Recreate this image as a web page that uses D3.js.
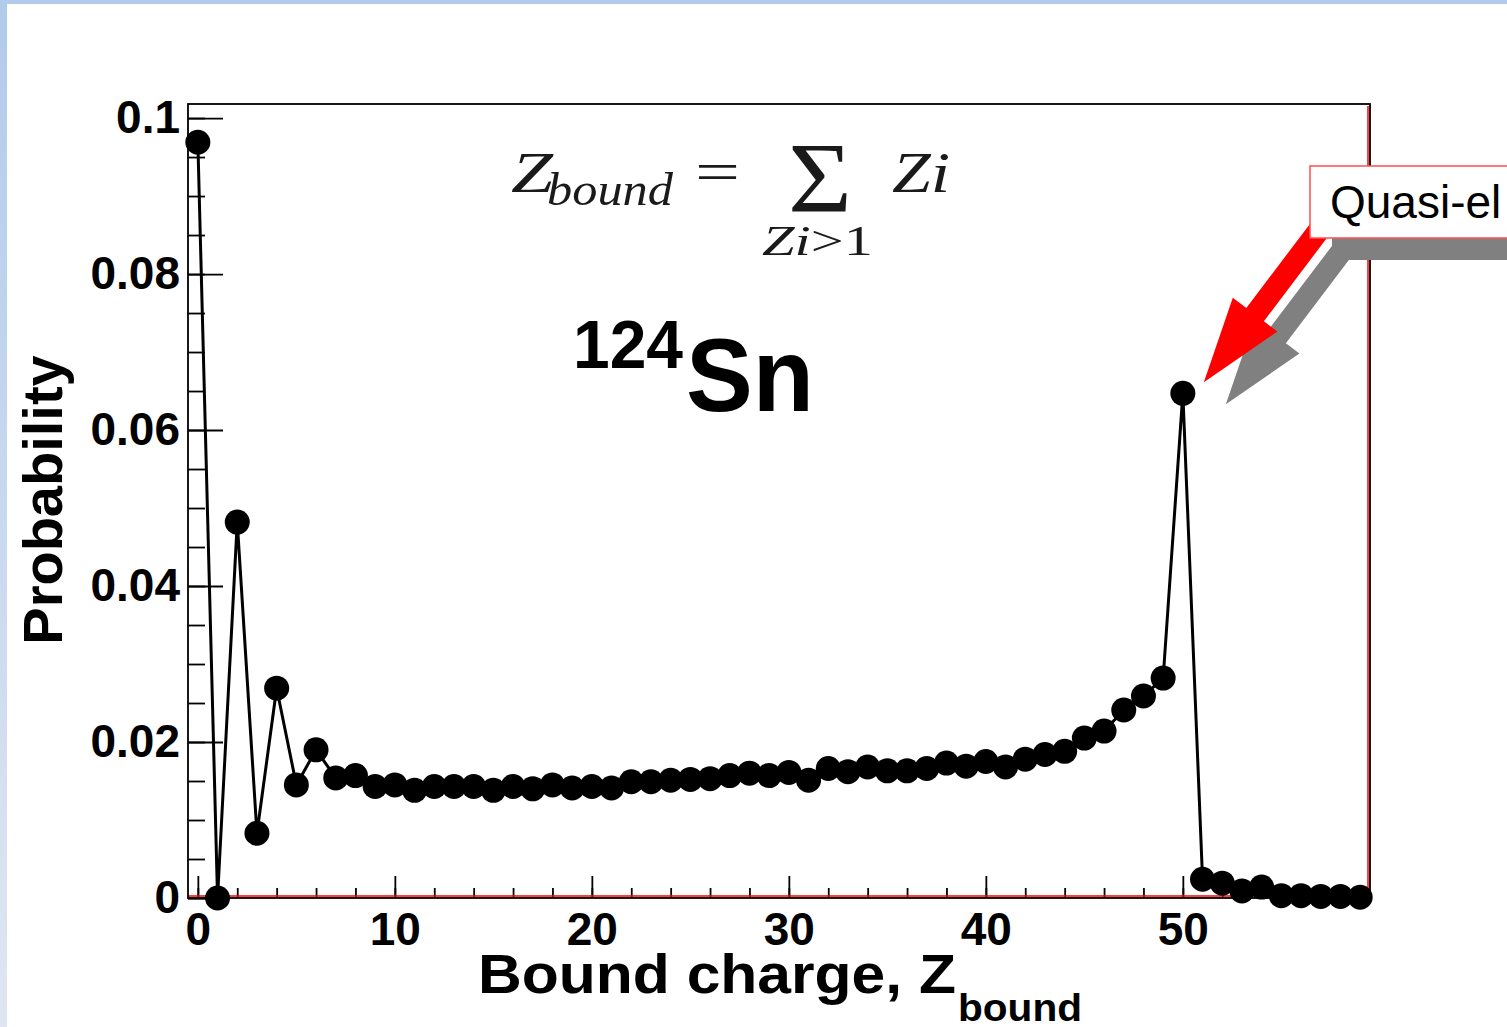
<!DOCTYPE html>
<html>
<head>
<meta charset="utf-8">
<script src="https://cdn.jsdelivr.net/npm/d3@7"></script>
<style>
body { margin: 0; background: #fff; }
svg { display: block; }
text { font-family: "Liberation Sans", Arial, Helvetica, sans-serif; }
</style>
</head>
<body>
<script>
const W = 1507
const H = 1027

// probability of each bound charge Z_bound = 0 .. 59
const probability = [
  0.0969, 0, 0.0482, 0.0083, 0.0269, 0.0145, 0.0190, 0.0154, 0.0157, 0.0143,
  0.0145, 0.0138, 0.0143, 0.0143, 0.0143, 0.0138, 0.0143, 0.0140, 0.0145, 0.0141,
  0.0143, 0.0141, 0.0149, 0.0149, 0.0151, 0.0152, 0.0153, 0.0157, 0.0160, 0.0157,
  0.0161, 0.0151, 0.0166, 0.0162, 0.0168, 0.0163, 0.0163, 0.0166, 0.0173, 0.0169,
  0.0175, 0.0168, 0.0178, 0.0184, 0.0188, 0.0205, 0.0214, 0.0241, 0.0259, 0.0282,
  0.0647, 0.0024, 0.0019, 0.0009, 0.0014, 0.0003, 0.0003, 0.0002, 0.0002, 0.0001
]
const zBound = probability.map((p, i) => i)
const xTicks = [0, 10, 20, 30, 40, 50]
const yTicks = [0, 0.02, 0.04, 0.06, 0.08, 0.1]
const yTickLabels = ["0", "0.02", "0.04", "0.06", "0.08", "0.1"]
const peakZ = 50

const svg = d3.select("body").append("svg").attr("width", W).attr("height", H)

// slide background: white with a pale blue strip at top and left
const grad = svg.append("defs").append("linearGradient").attr("id", "side")
  .attr("x1", 0).attr("y1", 0).attr("x2", 0).attr("y2", 1)
grad.append("stop").attr("offset", "0%").attr("stop-color", "#b2cbea")
grad.append("stop").attr("offset", "100%").attr("stop-color", "#dfe6f2")
svg.append("rect").attr("width", W).attr("height", H).attr("fill", "#fff")
svg.append("rect").attr("width", W).attr("height", 4).attr("fill", "#b2cbea")
svg.append("rect").attr("width", 7).attr("height", H).attr("fill", "url(#side)")

const padL = 188, padR = 1370, padT = 104, padB = 898
const x = d3.scaleLinear([-0.5, 59.5], [padL, padR])
const y = d3.scaleLinear([0, 0.1018], [padB, padT])

// y axis: minor + major ticks pointing inward
svg.append("g").attr("transform", `translate(${padL},0)`)
  .call(d3.axisLeft(y).tickValues(d3.range(0, 0.1001, 0.005)).tickSize(-17).tickFormat(""))
svg.append("g").attr("transform", `translate(${padL},0)`)
  .call(d3.axisLeft(y).tickValues(yTicks).tickSize(-35).tickPadding(8).tickFormat((d, i) => yTickLabels[i]))

// x axis: ticks upward
svg.append("g").attr("transform", `translate(0,${padB})`)
  .call(d3.axisBottom(x).tickValues(d3.range(0, 59, 2)).tickSize(-10).tickFormat(""))
svg.append("g").attr("transform", `translate(0,${padB})`)
  .call(d3.axisBottom(x).tickValues(xTicks).tickSize(-22).tickPadding(14))

svg.selectAll(".domain").remove()
svg.selectAll(".tick line").attr("stroke", "#000").attr("stroke-width", 1.8)
svg.selectAll(".tick text").attr("fill", "#000").style("font-size", "46px").style("font-weight", "bold")

// plot frame (red inner edge on bottom and right like the original pad)
svg.append("line").attr("x1", padL).attr("x2", padR - 2).attr("y1", padB - 2).attr("y2", padB - 2)
  .attr("stroke", "#f00").attr("stroke-width", 1.5)
svg.append("line").attr("x1", padR - 2).attr("x2", padR - 2).attr("y1", padT + 2).attr("y2", padB)
  .attr("stroke", "#f00").attr("stroke-width", 1.5)
svg.append("rect").attr("x", padL).attr("y", padT).attr("width", padR - padL).attr("height", padB - padT)
  .attr("fill", "none").attr("stroke", "#000").attr("stroke-width", 1.8)

// data
const line = d3.line().x((d, i) => x(zBound[i])).y(d => y(d))
svg.append("path").datum(probability).attr("d", line)
  .attr("fill", "none").attr("stroke", "#000").attr("stroke-width", 3).attr("stroke-linejoin", "miter")
svg.append("g").selectAll("circle").data(probability).enter().append("circle")
  .attr("cx", (d, i) => x(zBound[i])).attr("cy", d => y(d)).attr("r", 12.5).attr("fill", "#000")

// axis titles
svg.append("text").attr("transform", "translate(62,500) rotate(-90)").attr("text-anchor", "middle")
  .style("font-size", "56px").style("font-weight", "bold").text("Probability")
svg.append("text").attr("x", 478).attr("y", 993).attr("textLength", 478).attr("lengthAdjust", "spacingAndGlyphs")
  .style("font-size", "55px").style("font-weight", "bold").text("Bound charge, Z")
svg.append("text").attr("x", 958).attr("y", 1021).attr("textLength", 124).attr("lengthAdjust", "spacingAndGlyphs")
  .style("font-size", "38px").style("font-weight", "bold").text("bound")

// formula
const serif = "'Liberation Serif', 'Times New Roman', serif"
const fcol = "#1a1a1a"
const ftext = (tx, ty, size, str, len, italic) => svg.append("text").attr("x", tx).attr("y", ty)
  .attr("textLength", len).attr("lengthAdjust", "spacingAndGlyphs").attr("fill", fcol)
  .style("font-family", serif).style("font-size", size + "px").style("font-style", italic ? "italic" : "normal")
  .text(str)
ftext(511, 192, 58, "Z", 42, true)
ftext(547, 205, 46, "bound", 126, true)
ftext(695, 191, 58, "=", 45, false)
ftext(788, 211, 100, "Σ", 64, false)
ftext(892, 192, 58, "Zi", 58, true)
const sub = svg.append("text").attr("x", 762).attr("y", 255).attr("fill", fcol)
  .attr("textLength", 111).attr("lengthAdjust", "spacingAndGlyphs")
  .style("font-family", serif).style("font-size", "42px")
sub.append("tspan").style("font-style", "italic").text("Zi")
sub.append("tspan").text(">1")

// nucleus label
svg.append("text").attr("x", 573).attr("y", 368).attr("textLength", 110).attr("lengthAdjust", "spacingAndGlyphs")
  .style("font-size", "68px").style("font-weight", "bold").text("124")
svg.append("text").attr("x", 686).attr("y", 411).attr("textLength", 128).attr("lengthAdjust", "spacingAndGlyphs")
  .style("font-size", "104px").style("font-weight", "bold").text("Sn")

// annotation arrow pointing at the quasi-elastic peak (with drop shadow)
const tip = [x(peakZ) + 21, y(probability[peakZ]) - 11]
const u = [0.603, -0.797], n = [0.797, 0.603]
const headLen = 85, headHalf = 28, shaftHalf = 11, arrowLen = 230
const pt = (a, b) => [tip[0] + u[0] * a + n[0] * b, tip[1] + u[1] * a + n[1] * b]
const arrowPts = [pt(0, 0), pt(headLen, headHalf), pt(headLen, shaftHalf), pt(arrowLen, shaftHalf),
  pt(arrowLen, -shaftHalf), pt(headLen, -shaftHalf), pt(headLen, -headHalf)]
const shadow = 22
svg.append("polygon").attr("points", arrowPts.map(p => [p[0] + shadow, p[1] + shadow].join(",")).join(" "))
  .attr("fill", "#808080")
svg.append("rect").attr("x", 1310 + shadow).attr("y", 166 + shadow).attr("width", 300).attr("height", 72)
  .attr("fill", "#808080")
svg.append("polygon").attr("points", arrowPts.map(p => p.join(",")).join(" ")).attr("fill", "#f00")
svg.append("rect").attr("x", 1310).attr("y", 166).attr("width", 300).attr("height", 72)
  .attr("fill", "#fff").attr("stroke", "#ff5050").attr("stroke-width", 1.5)
svg.append("text").attr("x", 1330).attr("y", 218).style("font-size", "46px").attr("fill", "#000").text("Quasi-el")
</script>
</body>
</html>
